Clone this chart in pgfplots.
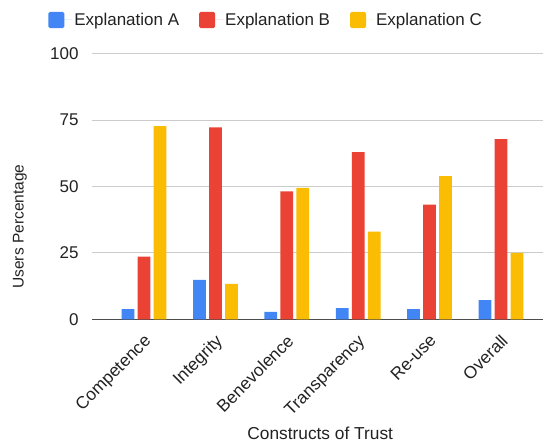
\documentclass[border=0pt]{standalone}
\usepackage{pgfplots}
\pgfplotsset{compat=1.18}
\usepackage{fontspec}
\setmainfont{Liberation Sans}
\definecolor{cA}{HTML}{4285F4}
\definecolor{cB}{HTML}{EA4335}
\definecolor{cC}{HTML}{FBBC04}
\definecolor{gridc}{HTML}{CCCCCC}
\definecolor{txt}{HTML}{222222}
\begin{document}
\begin{tikzpicture}[x=1pt,y=1pt]
\useasboundingbox (0,0) rectangle (545,443);
\begin{axis}[
  at={(92pt,123.7pt)}, anchor=south west,
  scale only axis, width=451pt, height=265.8pt,
  ybar=0pt, bar width=12.7pt,
  xmin=-0.73, xmax=5.59,
  ymin=0, ymax=100,
  ytick={0,25,50,75,100},
  xtick={0,1,2,3,4,5},
  xticklabels={Competence,Integrity,Benevolence,Transparency,Re-use,Overall},
  /pgf/number format/assume math mode=true,
  ymajorgrids, grid style={gridc, line width=0.8pt},
  axis x line*=bottom, axis y line*=left,
  y axis line style={draw=none},
  x axis line style={draw=black!70, line width=1pt, -},
  major tick length=0pt,
  every tick label/.append style={text=txt},
  yticklabel style={xshift=-10pt, font=\fontsize{17}{20}\selectfont},
  xticklabel style={font=\fontsize{17.3}{20}\selectfont, xshift=-1pt, yshift=-14pt, rotate=45, anchor=north east, inner sep=0pt},
  xlabel={Constructs of Trust},
  ylabel={Users Percentage},
  xlabel style={at={(axis description cs:0.506,-0.428)}, anchor=center, font=\fontsize{17.3}{20}\selectfont, text=txt},
  ylabel style={at={(axis description cs:-0.16,0.349)}, anchor=center, font=\fontsize{15.5}{18}\selectfont, text=txt},
  legend columns=3,
  legend style={at={(axis description cs:0.386,1.126)}, anchor=center, draw=none, fill=none,
    font=\fontsize{17}{20}\selectfont, text=txt,
    /tikz/every even column/.append style={column sep=18pt}},
  legend image code/.code={\fill[#1, rounded corners=1.5pt] (0pt,-8pt) rectangle (16pt,8pt);\path (0pt,0pt) -- (24pt,0pt);},
  clip=false,
]
\addplot[fill=cA, draw=none, bar shift=-16pt] coordinates {(0,3.8) (1,14.8) (2,2.8) (3,4.2) (4,3.8) (5,7.2)};
\addplot[fill=cB, draw=none, bar shift=0pt] coordinates {(0,23.6) (1,72.2) (2,48.1) (3,62.9) (4,43.1) (5,67.8)};
\addplot[fill=cC, draw=none, bar shift=16pt] coordinates {(0,72.7) (1,13.3) (2,49.4) (3,33.0) (4,53.9) (5,25.0)};
\legend{Explanation A, Explanation B, Explanation C}
\end{axis}
\end{tikzpicture}
\end{document}
